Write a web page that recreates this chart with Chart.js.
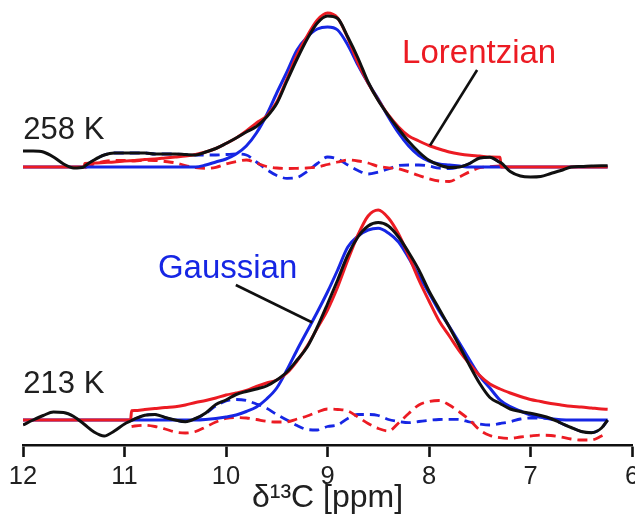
<!DOCTYPE html>
<html>
<head>
<meta charset="utf-8">
<title>13C line shape fits</title>
<script src="https://cdn.jsdelivr.net/npm/chart.js@4/dist/chart.umd.min.js"></script>
<style>
  html, body { margin: 0; padding: 0; background: #ffffff; overflow: hidden; }
  #wrap { width: 645px; height: 526px; }
</style>
</head>
<body>
<div id="wrap"><canvas id="c" width="645" height="526"></canvas></div>
<script>
// Chemical-shift axis ticks (ppm)
const ppmTicks = [12, 11, 10, 9, 8, 7, 6];

// ---- 258 K spectrum ----
const ppm258 = [
  12.0, 11.9, 11.8, 11.7, 11.6, 11.5, 11.4, 11.39, 11.3, 11.2,
  11.1, 11.0, 10.9, 10.8, 10.7, 10.6, 10.5, 10.4, 10.3, 10.2,
  10.1, 10.0, 9.9, 9.8, 9.7, 9.6, 9.5, 9.4, 9.3, 9.2,
  9.1, 9.0, 8.9, 8.8, 8.7, 8.6, 8.5, 8.4, 8.3, 8.2,
  8.1, 8.0, 7.9, 7.8, 7.7, 7.6, 7.5, 7.4, 7.3, 7.29,
  7.2, 7.1, 7.0, 6.9, 6.8, 6.7, 6.6, 6.5, 6.4, 6.3,
  6.24
];
const exp258 = [
  0.16, 0.16, 0.15, 0.10, 0.03, -0.01, 0.00, 0.01, 0.07, 0.12,
  0.14, 0.14, 0.14, 0.14, 0.13, 0.13, 0.13, 0.125, 0.12, 0.15,
  0.185, 0.235, 0.29, 0.35, 0.405, 0.50, 0.635, 0.86, 1.08, 1.28,
  1.44, 1.51, 1.485, 1.30, 1.09, 0.85, 0.665, 0.515, 0.38, 0.255,
  0.15, 0.067, 0.02, -0.005, 0.0, 0.035, 0.09, 0.097, 0.047, 0.043,
  -0.045, -0.09, -0.10, -0.095, -0.065, -0.035, 0.0, 0.005, 0.01, 0.013,
  0.013
];
const lor258 = [
  0, 0, 0, 0, 0, 0, 0, 0.035, 0.04, 0.045,
  0.05, 0.06, 0.065, 0.075, 0.08, 0.09, 0.10, 0.11, 0.125, 0.15,
  0.185, 0.235, 0.29, 0.36, 0.44, 0.51, 0.65, 0.88, 1.12, 1.31,
  1.47, 1.54, 1.49, 1.29, 1.04, 0.84, 0.67, 0.52, 0.40, 0.31,
  0.26, 0.215, 0.18, 0.15, 0.13, 0.117, 0.11, 0.10, 0.097, 0,
  0, 0, 0, 0, 0, 0, 0, 0, 0, 0,
  0
];
const gau258 = [
  0, 0, 0, 0, 0, 0, 0, 0, 0, 0,
  0, 0, 0, 0, 0, 0, 0, 0, 0, 0.02,
  0.05, 0.08, 0.13, 0.21, 0.34, 0.52, 0.74, 0.95, 1.17, 1.30,
  1.38, 1.40, 1.37, 1.22, 1.02, 0.84, 0.68, 0.50, 0.34, 0.21,
  0.115, 0.06, 0.03, 0.02, 0.01, 0, 0, 0, 0, 0,
  0, 0, 0, 0, 0, 0, 0, 0, 0, 0,
  0
];
const resLor258 = [
  null, null, null, null, null, null, null, -0.01, 0.03, 0.055,
  0.067, 0.065, 0.06, 0.067, 0.065, 0.055, 0.042, 0.015, -0.005, -0.013,
  -0.003, 0.03, 0.055, 0.07, 0.04, 0.005, -0.01, -0.015, -0.013, -0.01,
  0.0, 0.025, 0.05, 0.07, 0.06, 0.04, 0.007, -0.008, -0.017, -0.05,
  -0.085, -0.117, -0.14, -0.145, -0.10, -0.048, -0.007, 0.003, 0.01, null,
  null, null, null, null, null, null, null, null, null, null,
  null
];
const resGau258 = [
  null, null, null, null, null, null, null, 0.01, 0.07, 0.12,
  0.14, 0.14, 0.14, 0.14, 0.13, 0.13, 0.13, 0.125, 0.12, 0.12,
  0.12, 0.125, 0.13, 0.12, 0.05, -0.025, -0.085, -0.113, -0.105, -0.045,
  0.035, 0.10, 0.08, 0.02, -0.035, -0.07, -0.05, -0.02, 0.015, 0.02,
  0.02, 0.01, -0.012, -0.015, 0.0, 0.035, 0.09, 0.097, 0.047, null,
  null, null, null, null, null, null, null, null, null, null,
  null
];

// ---- 213 K spectrum ----
const ppm213 = [
  12.0, 11.9, 11.8, 11.7, 11.6, 11.5, 11.4, 11.3, 11.2, 11.1,
  11.0, 10.94, 10.93, 10.9, 10.8, 10.7, 10.6, 10.5, 10.4, 10.3,
  10.2, 10.1, 10.0, 9.9, 9.8, 9.7, 9.6, 9.5, 9.4, 9.3,
  9.2, 9.1, 9.0, 8.9, 8.8, 8.7, 8.6, 8.5, 8.4, 8.3,
  8.2, 8.1, 8.0, 7.9, 7.8, 7.7, 7.6, 7.5, 7.4, 7.3,
  7.2, 7.1, 7.0, 6.9, 6.8, 6.7, 6.6, 6.5, 6.4, 6.3,
  6.24
];
const exp213 = [
  -0.05, 0.0, 0.045, 0.08, 0.075, 0.035, -0.04, -0.12, -0.16, -0.11,
  -0.04, -0.01, -0.005, 0.01, 0.047, 0.055, 0.025, 0.0, -0.017, 0.015,
  0.07, 0.155, 0.20, 0.255, 0.285, 0.31, 0.34, 0.40, 0.48, 0.60,
  0.73, 0.93, 1.16, 1.40, 1.65, 1.83, 1.94, 1.975, 1.94, 1.83,
  1.675, 1.50, 1.29, 1.11, 0.93, 0.74, 0.545, 0.365, 0.225, 0.165,
  0.11, 0.085, 0.067, 0.045, 0.015, -0.03, -0.075, -0.115, -0.127, -0.08,
  0.0
];
const lor213 = [
  0, 0, 0, 0, 0, 0, 0, 0, 0, 0,
  0, 0, 0.093, 0.095, 0.105, 0.115, 0.125, 0.133, 0.15, 0.175,
  0.195, 0.22, 0.25, 0.27, 0.295, 0.335, 0.37, 0.40, 0.47, 0.59,
  0.74, 0.92, 1.10, 1.33, 1.60, 1.85, 2.04, 2.10, 2.02, 1.86,
  1.64, 1.40, 1.19, 0.99, 0.84, 0.69, 0.56, 0.445, 0.36, 0.31,
  0.27, 0.235, 0.205, 0.185, 0.165, 0.15, 0.137, 0.13, 0.12, 0.11,
  0.107
];
const gau213 = [
  0, 0, 0, 0, 0, 0, 0, 0, 0, 0,
  0, 0, 0, 0, 0, 0, 0, 0, 0, 0,
  0.005, 0.015, 0.03, 0.05, 0.085, 0.13, 0.21, 0.32, 0.50, 0.70,
  0.89, 1.08, 1.28, 1.50, 1.73, 1.84, 1.90, 1.917, 1.87, 1.78,
  1.62, 1.44, 1.27, 1.09, 0.935, 0.77, 0.60, 0.44, 0.32, 0.20,
  0.135, 0.09, 0.05, 0.027, 0.012, 0.003, 0, 0, 0, 0,
  0
];
const resLor213 = [
  null, null, null, null, null, null, null, null, null, null,
  null, null, -0.065, -0.06, -0.053, -0.065, -0.09, -0.12, -0.13, -0.115,
  -0.07, -0.02, 0.015, 0.025, 0.02, 0.005, -0.013, -0.02, -0.018, 0.01,
  0.04, 0.08, 0.11, 0.105, 0.09, 0.03, -0.035, -0.085, -0.11, -0.03,
  0.065, 0.15, 0.185, 0.195, 0.15, 0.08, 0.0, -0.10, -0.155, -0.177,
  -0.183, -0.17, -0.16, -0.152, -0.155, -0.17, -0.19, -0.20, -0.20, -0.16,
  -0.13
];
const resGau213 = [
  null, null, null, null, null, null, null, null, null, null,
  null, null, -0.005, 0.01, 0.047, 0.055, 0.025, 0.0, -0.017, 0.015,
  0.065, 0.14, 0.19, 0.205, 0.195, 0.16, 0.117, 0.055, 0.0, -0.055,
  -0.095, -0.10, -0.065, -0.05, 0.015, 0.055, 0.055, 0.045, 0.005, -0.015,
  -0.027, -0.015, -0.003, 0.005, 0.007, 0.005, -0.02, -0.04, -0.05, -0.035,
  -0.017, 0.01, 0.02, 0.02, 0.008, -0.033, -0.075, -0.115, -0.127, -0.08,
  0.0
];

// vertical stacking of the two temperatures (intensity units)
const OFFSET_258 = 2.53;
const OFFSET_213 = 0;

const RED = '#ec1b23';
const BLUE = '#1626e4';
const BLACK = '#101010';
const INK = '#202020';
const FONT = '"Liberation Sans", Arial, Helvetica, sans-serif';

function pts(ppm, vals, offset) {
  return ppm.map((p, i) => ({ x: p, y: vals[i] === null ? null : vals[i] + offset }));
}

function solid(data, color, order) {
  return {
    data, borderColor: color, borderWidth: 3, order,
    pointRadius: 0, cubicInterpolationMode: 'monotone', spanGaps: false
  };
}
function dashed(data, color, order) {
  return {
    data, borderColor: color, borderWidth: 2.8, borderDash: [10, 6], order,
    pointRadius: 0, cubicInterpolationMode: 'monotone', spanGaps: false
  };
}

const datasets = [
  // 258 K
  solid(pts(ppm258, exp258, OFFSET_258), BLACK, 0),
  solid(pts(ppm258, lor258, OFFSET_258), RED, 1),
  solid(pts(ppm258, gau258, OFFSET_258), BLUE, 2),
  dashed(pts(ppm258, resLor258, OFFSET_258), RED, 3),
  dashed(pts(ppm258, resGau258, OFFSET_258), BLUE, 4),
  // 213 K
  solid(pts(ppm213, exp213, OFFSET_213), BLACK, 0),
  solid(pts(ppm213, lor213, OFFSET_213), RED, 1),
  solid(pts(ppm213, gau213, OFFSET_213), BLUE, 2),
  dashed(pts(ppm213, resLor213, OFFSET_213), RED, 3),
  dashed(pts(ppm213, resGau213, OFFSET_213), BLUE, 4)
];

// text labels and pointer lines, placed in data coordinates (ppm, intensity)
const annotations = {
  id: 'annotations',
  afterDatasetsDraw(chart, args, opts) {
    const { ctx, scales: { x, y } } = chart;
    ctx.save();
    ctx.lineCap = 'butt';
    for (const ln of opts.lines) {
      ctx.beginPath();
      ctx.strokeStyle = ln.color;
      ctx.lineWidth = ln.width;
      ctx.moveTo(x.getPixelForValue(ln.from[0]), y.getPixelForValue(ln.from[1]));
      ctx.lineTo(x.getPixelForValue(ln.to[0]), y.getPixelForValue(ln.to[1]));
      ctx.stroke();
    }
    ctx.textAlign = 'left';
    ctx.textBaseline = 'alphabetic';
    for (const t of opts.texts) {
      ctx.font = t.size + 'px ' + FONT;
      ctx.fillStyle = t.color;
      ctx.fillText(t.text, x.getPixelForValue(t.at[0]), y.getPixelForValue(t.at[1]));
    }
    ctx.restore();
  }
};

new Chart(document.getElementById('c'), {
  type: 'line',
  data: { datasets },
  plugins: [annotations],
  options: {
    responsive: false,
    devicePixelRatio: 1,
    animation: false,
    events: [],
    layout: { padding: { left: 23, right: 13, top: 0, bottom: 0 } },
    plugins: {
      legend: { display: false },
      tooltip: { enabled: false },
      annotations: {
        lines: [
          { from: [7.526, 3.50], to: [7.99, 2.745], color: BLACK, width: 2.6 },
          { from: [9.903, 1.35], to: [9.15, 0.975], color: BLACK, width: 2.6 }
        ],
        texts: [
          { text: '258 K', at: [11.997, 2.81], size: 31, color: INK },
          { text: '213 K', at: [11.997, 0.275], size: 31, color: INK },
          { text: 'Lorentzian', at: [8.265, 3.57], size: 33, color: RED },
          { text: 'Gaussian', at: [10.671, 1.425], size: 33, color: BLUE }
        ]
      }
    },
    scales: {
      x: {
        type: 'linear',
        position: 'bottom',
        min: Math.min(...ppmTicks),
        max: Math.max(...ppmTicks),
        reverse: true,
        afterBuildTicks: (s) => { s.ticks = ppmTicks.map(v => ({ value: v })); },
        afterFit: (s) => { s.height = 81; },
        ticks: {
          autoSkip: false, maxRotation: 0, padding: 5,
          color: INK, font: { family: FONT, size: 25.5 }
        },
        grid: {
          display: true, drawOnChartArea: false, drawTicks: true,
          tickLength: 12, tickWidth: 2.6, tickColor: BLACK
        },
        border: { display: true, color: BLACK, width: 2.6 },
        title: {
          display: true,
          text: 'δ¹³C [ppm]',
          color: INK,
          font: { family: FONT, size: 32 },
          padding: { top: 0, bottom: 9 }
        }
      },
      y: {
        type: 'linear',
        display: false,
        min: -0.25,
        max: 4.2
      }
    }
  }
});
</script>
</body>
</html>
